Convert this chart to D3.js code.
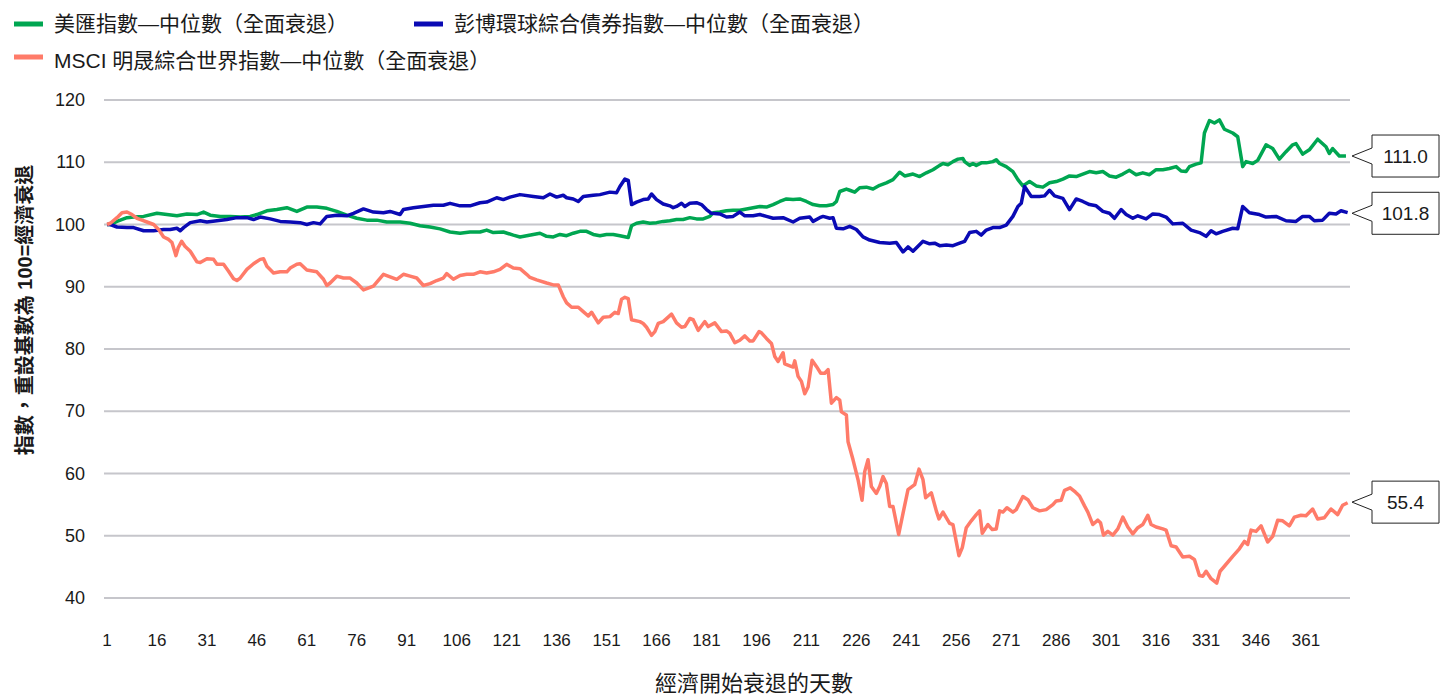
<!DOCTYPE html>
<html>
<head>
<meta charset="utf-8">
<script src="https://cdn.jsdelivr.net/npm/d3@7"></script>
<style>
  body { margin: 0; background: #fff; }
  svg text { font-family: "Liberation Sans", "Noto Sans CJK TC", sans-serif; fill: #1a1a1a; }
</style>
</head>
<body>
<svg width="1441" height="698"></svg>
<script>
const svg = d3.select('svg');

// series, [day, index value]
const usdIndex = [[1,100],[2,100],[4,100.5],[7,101.1],[9,101.2],[12,101.3],[16,101.8],[19,101.6],[22,101.4],[25,101.7],[28,101.6],[30,102.0],[32,101.5],[35,101.3],[38,101.3],[41,101.2],[44,101.3],[46,101.6],[49,102.2],[52,102.4],[55,102.7],[58,102.1],[61,102.8],[64,102.8],[67,102.6],[70,102.1],[73,101.5],[76,101.0],[79,100.7],[82,100.7],[85,100.4],[89,100.4],[92,100.2],[95,99.8],[98,99.6],[101,99.3],[104,98.8],[107,98.6],[110,98.8],[113,98.8],[115,99.1],[117,98.7],[120,98.8],[123,98.3],[125,98.0],[127,98.2],[129,98.4],[131,98.6],[133,98.1],[135,98.0],[137,98.4],[139,98.2],[141,98.6],[143,98.9],[145,98.9],[147,98.4],[149,98.2],[151,98.4],[153,98.4],[155,98.2],[157.5,97.9],[158.5,99.8],[160,100.2],[162,100.4],[164,100.2],[166,100.3],[168,100.5],[170,100.6],[172,100.8],[174,100.8],[176,101.1],[178,100.9],[180,100.9],[182,101.3],[183,101.9],[185,102.0],[187,102.2],[189,102.3],[191,102.3],[193,102.5],[195,102.7],[197,102.9],[199,102.8],[201,103.2],[203,103.7],[205,104.1],[207,104.0],[209,104.1],[211,103.7],[213,103.2],[215,103.0],[217,103.0],[219,103.2],[220,103.7],[221,105.3],[223,105.7],[224,105.5],[225.5,105.2],[227,105.9],[229,106.0],[231,105.7],[233,106.3],[235,106.7],[237,107.2],[239,108.4],[240.5,107.8],[243,108.1],[245,107.7],[247,108.3],[249,108.8],[251,109.5],[252,109.8],[253.5,109.6],[255,110.1],[256.5,110.5],[258,110.6],[258.5,110.1],[260,109.5],[261,109.8],[262,109.5],[263.5,109.9],[265,109.9],[267,110.1],[268,110.4],[269,109.8],[271,109.3],[273,108.5],[274.5,107.2],[276,106.2],[278,106.9],[280,106.2],[282,106.0],[284,106.7],[286,106.9],[288,107.3],[290,107.8],[292,107.7],[294,108.1],[296,108.5],[298,108.3],[300,108.5],[302,107.8],[304,107.6],[306,108.1],[308,108.7],[310,108.0],[312,108.3],[314,108.0],[316,108.8],[318,108.8],[320,109.0],[322,109.3],[323.5,108.6],[325,108.5],[326,109.3],[328,109.7],[329.5,109.9],[330.5,114.7],[332,116.7],[333.5,116.3],[335,116.8],[336.5,115.3],[339,114.7],[340.5,114.1],[342,109.3],[343,110.1],[345,109.8],[346.5,110.3],[349,112.8],[351,112.2],[353,110.5],[355,111.7],[357,112.8],[358,113.0],[360,111.3],[362,112.0],[364.5,113.7],[367,112.5],[368,111.4],[369,112.2],[371,111.0],[373,111.0]];

const bondIndex = [[1,100],[2,100],[4,99.6],[7,99.5],[9,99.5],[12,99.0],[15,99.0],[18,99.2],[20,99.2],[22,99.4],[23,99.0],[24,99.5],[26,100.3],[29,100.6],[31,100.4],[34,100.6],[37,100.8],[40,101.1],[43,101.1],[45,100.8],[47,101.2],[50,100.9],[53,100.5],[56,100.4],[59,100.3],[61,100.0],[63,100.3],[65,100.1],[67,101.3],[70,101.5],[73,101.4],[75,101.8],[78,102.5],[81,102.0],[84,101.9],[86,102.1],[89,101.6],[90,102.4],[93,102.7],[96,102.9],[99,103.1],[102,103.1],[104,103.4],[107,103.0],[110,103.0],[113,103.5],[115,103.6],[118,104.3],[120,104.0],[122,104.4],[125,104.8],[129,104.5],[132,104.3],[134,104.9],[136,104.4],[138,104.7],[139,104.3],[141,104.1],[142.5,103.7],[144,104.5],[147,104.7],[149,104.8],[152,105.2],[154,105.1],[155,106.1],[156.5,107.3],[157.5,107.1],[158.5,103.2],[160,103.6],[162,104.0],[163.5,104.1],[164.5,104.9],[166,104.0],[168,103.3],[170,103.0],[171,102.7],[172,102.9],[173.5,103.4],[174.5,102.9],[176,103.4],[178,103.5],[179.5,103.2],[181,102.4],[182.5,101.8],[185,101.7],[187,101.2],[189,101.3],[191,102.0],[192.5,101.4],[195,101.4],[197,101.6],[199,101.3],[201,101.0],[204,101.1],[207,100.4],[209,101.0],[212,101.2],[213,100.5],[215,101.1],[216,101.3],[218,101.0],[219,101.1],[220,99.4],[222,99.3],[224,99.7],[226,99.2],[228,98.0],[230,97.5],[233,97.1],[236,97.0],[238,97.1],[240,95.6],[241.5,96.4],[243,95.7],[246,97.3],[248,96.9],[249.5,97.0],[251,96.6],[253,96.7],[255,96.6],[257,97.0],[258.5,97.3],[260,98.7],[262,98.9],[263.5,98.3],[265,99.1],[267,99.5],[269,99.5],[271,99.9],[273,101.3],[274.5,102.9],[275.5,103.4],[276.5,106.1],[277.5,105.3],[278.5,104.5],[281,104.5],[282.5,104.6],[284,105.5],[285.5,104.6],[288,104.2],[290,102.4],[292,104.1],[294,103.7],[296,103.2],[298,103.0],[300,102.1],[302,101.8],[303.5,101.0],[305.5,102.4],[307,101.6],[309,101.0],[310.5,101.4],[313,100.9],[315,101.7],[317,101.6],[319,101.2],[321,100.1],[324,100.2],[326.5,99.1],[329,98.7],[331,98.1],[332.5,99.0],[334,98.5],[336,98.9],[339,99.4],[340.5,99.3],[342,102.9],[344,101.9],[347,101.6],[349,101.2],[352,101.3],[355,100.6],[358,100.5],[360,101.3],[362,101.3],[363.5,100.6],[366,100.7],[368,101.8],[370,101.7],[371.5,102.2],[373.5,101.9]];

const equityIndex = [[1,100],[2,100.2],[4,101.1],[5.5,101.9],[7,102.0],[8.5,101.6],[10,101.0],[11.5,100.7],[13,100.4],[15,100.0],[16.5,99.2],[18,98.0],[19.5,97.6],[20.5,97.1],[21.7,95.0],[22.4,96.3],[23.4,97.3],[24.4,96.5],[26,95.7],[28,94.0],[29,93.9],[31,94.5],[33,94.4],[34,93.6],[36,93.6],[37.5,92.5],[39,91.3],[40,91.0],[41,91.4],[43,92.8],[45,93.7],[47,94.4],[48,94.5],[49,93.3],[51,92.2],[53,92.4],[55,92.4],[56,93.0],[58,93.6],[59,93.7],[61,92.7],[64,92.4],[66,91.2],[67,90.2],[68,90.6],[70,91.7],[72,91.4],[74,91.4],[76,90.6],[78,89.5],[79,89.7],[81,90.1],[84,92.0],[86,91.6],[88,91.2],[90,92.0],[92,91.7],[94,91.4],[96,90.2],[98,90.5],[100,91.0],[102,91.4],[103,92.1],[105,91.2],[107,91.8],[109,92.0],[111,92.0],[113,92.4],[115,92.2],[117,92.4],[119,92.8],[121,93.6],[123,93.0],[125,92.9],[127,92.0],[128,91.5],[130,91.1],[133,90.6],[135,90.3],[136.5,90.3],[138,88.4],[139,87.4],[140.5,86.7],[142.5,86.7],[144,86.0],[145.5,85.3],[146.5,85.9],[148.5,84.2],[150,85.1],[152,85.2],[153.5,85.9],[154.5,85.7],[155.5,88.0],[156.5,88.3],[157.5,88.1],[158.5,84.7],[161,84.4],[162,84.1],[163,83.5],[164.5,82.2],[165.5,82.8],[166.5,84.1],[168,84.4],[170.5,85.6],[172,84.2],[173.5,83.5],[174.5,83.6],[176,84.9],[177,84.7],[178.5,83.0],[179.5,83.7],[180.5,84.4],[181.5,83.6],[183.5,84.2],[185.5,82.8],[187,82.9],[188,82.5],[189.5,81.0],[191,81.4],[192.5,82.1],[194,81.3],[195,81.3],[196.8,82.8],[197.5,82.6],[199,81.7],[200.5,80.9],[201.5,78.8],[202.5,78.0],[204,79.4],[204.5,77.6],[206,77.3],[207,77.1],[207.5,78.1],[208.5,75.6],[209.5,74.8],[210.5,72.8],[211.5,73.9],[212.7,78.2],[214,77.2],[215.3,76.1],[216.5,76.1],[217.5,76.7],[218.5,71.3],[220,72.2],[221,71.8],[221.5,69.9],[223,69.4],[223.5,65.1],[225,62.2],[226.5,59.0],[227.7,55.7],[228.5,60.3],[229.5,62.2],[230.5,57.9],[232,56.8],[233,57.9],[234,59.5],[235,58.4],[236,54.7],[237,54.7],[238.7,50.2],[240,53.6],[241.5,57.4],[243.5,58.2],[244.8,60.7],[246,59.0],[246.8,56.1],[248.5,56.9],[250,54.0],[250.8,52.7],[252,53.8],[254,52.0],[255,51.8],[256.8,46.8],[257.8,48.1],[259,51.3],[260.5,52.4],[262,53.4],[263,54.0],[263.8,50.4],[265.5,51.8],[266.8,51.0],[268,51.1],[269,54.0],[270,53.8],[271.2,54.5],[273,53.8],[274,54.2],[276,56.3],[277.5,55.8],[279,54.5],[281,54.0],[283,54.2],[285,55.0],[286,55.6],[287.5,55.7],[288.5,57.3],[290.2,57.7],[291.8,57.0],[293,56.4],[294.5,54.8],[295.5,53.8],[297,51.8],[298.5,52.5],[299.3,52.1],[300.2,50.1],[301.5,50.7],[303,50.1],[304.5,51.1],[306,53.0],[307.5,51.4],[309,50.3],[310.5,51.3],[312,51.8],[313.5,53.3],[314.5,51.8],[316,51.4],[318,51.1],[319,50.9],[320.5,48.4],[322,48.2],[324,46.6],[326,46.7],[327.5,46.2],[329,43.6],[330,43.5],[331,44.3],[332.5,43.1],[334.2,42.4],[335.2,44.3],[336.5,45.1],[339,46.7],[341,47.9],[342.5,49.1],[343.5,48.6],[344.5,50.9],[346,50.7],[347.5,51.6],[349.5,49.0],[351,49.9],[352.5,52.5],[354,52.4],[356,51.6],[357.5,53.0],[359.5,53.3],[361,53.2],[363,54.3],[364.5,52.7],[366.5,52.9],[368.5,54.3],[370.5,53.4],[372,54.9],[373.5,55.3]];

const seriesNames = ['美匯指數—中位數（全面衰退）', '彭博環球綜合債券指數—中位數（全面衰退）', 'MSCI 明晟綜合世界指數—中位數（全面衰退）'];
const seriesColors = ['#00a651', '#0a0ab4', '#ff7b69'];
const endValues = [111.0, 101.8, 55.4];
const yTicks = [40, 50, 60, 70, 80, 90, 100, 110, 120];
const xTicks = [1, 16, 31, 46, 61, 76, 91, 106, 121, 136, 151, 166, 181, 196, 211, 226, 241, 256, 271, 286, 301, 316, 331, 346, 361];

const x = d3.scaleLinear().domain([1, 361]).range([107, 1306]);
const y = d3.scaleLinear().domain([40, 120]).range([598, 100]);

// gridlines + y labels
svg.append('g')
  .selectAll('line')
  .data(yTicks)
  .enter()
  .append('line')
  .attr('x1', 104).attr('x2', 1350)
  .attr('y1', d => y(d)).attr('y2', d => y(d))
  .attr('stroke', '#c6c6cb')
  .attr('stroke-width', 2);

svg.append('g')
  .selectAll('text')
  .data(yTicks)
  .enter()
  .append('text')
  .attr('x', 85)
  .attr('y', d => y(d) + 6)
  .attr('text-anchor', 'end')
  .attr('font-size', 18)
  .text(d => d);

svg.append('g')
  .selectAll('text')
  .data(xTicks)
  .enter()
  .append('text')
  .attr('x', d => x(d))
  .attr('y', 646)
  .attr('text-anchor', 'middle')
  .attr('font-size', 17)
  .text(d => d);

svg.append('text')
  .attr('x', 754).attr('y', 691)
  .attr('text-anchor', 'middle')
  .attr('font-size', 22)
  .text('經濟開始衰退的天數');

svg.append('text')
  .attr('transform', 'translate(32,310) rotate(-90)')
  .attr('text-anchor', 'middle')
  .attr('font-size', 20)
  .attr('font-weight', 'bold')
  .text('指數，重設基數為 100=經濟衰退');

// lines
const line = d3.line().x(d => x(d[0])).y(d => y(d[1]));
[usdIndex, bondIndex, equityIndex].forEach((s, i) => {
  svg.append('path')
    .datum(s)
    .attr('d', line)
    .attr('fill', 'none')
    .attr('stroke', seriesColors[i])
    .attr('stroke-width', 3.5)
    .attr('stroke-linejoin', 'round');
});

// legend
const legendPos = [[14, 24], [414, 24], [14, 57]];
seriesNames.forEach((name, i) => {
  const [lx, ly] = legendPos[i];
  svg.append('line')
    .attr('x1', lx).attr('x2', lx + 29)
    .attr('y1', ly).attr('y2', ly)
    .attr('stroke', seriesColors[i])
    .attr('stroke-width', 5);
  svg.append('text')
    .attr('x', lx + 40).attr('y', ly + (i === 2 ? 11 : 7))
    .attr('font-size', 21)
    .text(name);
});

// end value callouts
endValues.forEach(v => {
  const tx = 1352, ty = y(v);
  const bx = tx + 20, bw = 67, bh = 42;
  svg.append('path')
    .attr('d', `M${tx},${ty} L${bx},${ty - 8} L${bx},${ty - bh / 2} L${bx + bw},${ty - bh / 2} L${bx + bw},${ty + bh / 2} L${bx},${ty + bh / 2} L${bx},${ty + 8} Z`)
    .attr('fill', '#fff')
    .attr('stroke', '#222')
    .attr('stroke-width', 1);
  svg.append('text')
    .attr('x', bx + bw / 2).attr('y', ty + 7)
    .attr('text-anchor', 'middle')
    .attr('font-size', 19)
    .text(v.toFixed(1));
});
</script>
</body>
</html>
